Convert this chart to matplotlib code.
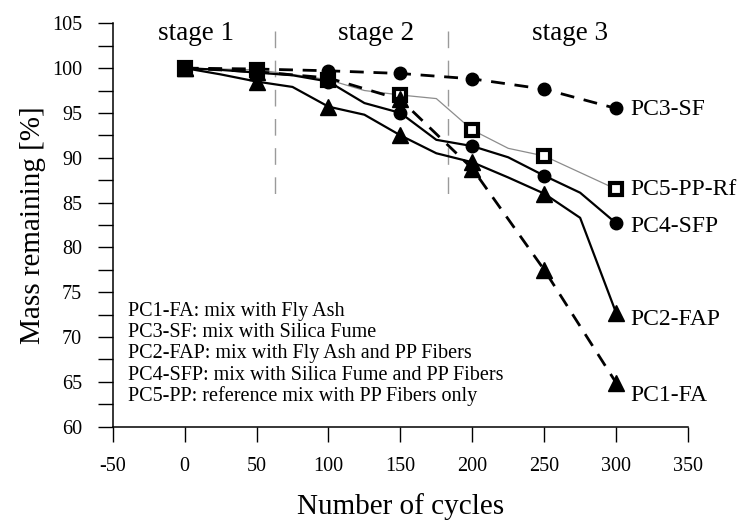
import matplotlib
matplotlib.use("Agg")
import matplotlib.pyplot as plt
from matplotlib.ticker import MultipleLocator

plt.rcParams['font.family'] = ['Liberation Serif', 'DejaVu Serif']
plt.rcParams['axes.unicode_minus'] = False

# ---- data ----
cycles_coarse = [0, 50, 100, 150, 200, 250, 300]
cycles_fine = [0, 25, 50, 75, 100, 125, 150, 175, 200, 225, 250, 275, 300]

pc1_fa = [100, 99.6, 98.9, 96.5, 88.8, 77.5, 64.9]
pc3_sf = [100, 99.9, 99.7, 99.4, 98.8, 97.65, 95.5]
pc2_fap = [100, 99.3, 98.5, 97.9, 95.7, 94.8, 92.5, 90.5, 89.5, 87.8, 86.0, 83.3, 72.7]
pc4_sfp = [100, 99.8, 99.5, 99.2, 98.5, 96.1, 95.0, 92.0, 91.3, 90.05, 88.0, 86.1, 82.7]
pc5_pp = [100, 99.9, 99.8, 99.3, 98.7, 97.5, 97.0, 96.6, 93.1, 91.05, 90.2, 88.35, 86.5]

series_labels = ["PC1-FA", "PC3-SF", "PC2-FAP", "PC4-SFP", "PC5-PP-Rf"]
stage_names = ["stage 1", "stage 2", "stage 3"]
stage_label_x = [8, 133, 268]
stage_bounds = [63, 183]
legend_lines = [
    "PC1-FA: mix with Fly Ash",
    "PC3-SF: mix with Silica Fume",
    "PC2-FAP: mix with Fly Ash and PP Fibers",
    "PC4-SFP: mix with Silica Fume and PP Fibers",
    "PC5-PP: reference mix with PP Fibers only",
]
xticks = [-50, 0, 50, 100, 150, 200, 250, 300, 350]
yticks = [60, 65, 70, 75, 80, 85, 90, 95, 100, 105]

# ---- figure ----
fig = plt.figure(figsize=(7.45, 5.22), dpi=100)
ax = fig.add_axes([0.1513, 0.1826, 0.7722, 0.7728])

dash = (0, (5, 3.5))

# PC5 first (others drawn over it)
ax.plot(cycles_fine, pc5_pp, color='#8c8c8c', lw=0.9, marker='s', markevery=2,
        ms=8, mfc='white', mec='black', mew=3, zorder=2)
ax.plot(cycles_coarse, pc1_fa, color='black', lw=2.0, linestyle=dash, marker='^',
        ms=11, mfc='black', mec='black', zorder=3)
ax.plot(cycles_coarse, pc3_sf, color='black', lw=2.0, linestyle=dash, marker='o',
        ms=9, mfc='black', mec='black', zorder=3)
ax.plot(cycles_fine, pc2_fap, color='black', lw=1.6, marker='^', markevery=2,
        ms=11, mfc='black', mec='black', zorder=4)
ax.plot(cycles_fine, pc4_sfp, color='black', lw=1.6, marker='o', markevery=2,
        ms=9, mfc='black', mec='black', zorder=4)

# end labels
end_vals = [pc1_fa[-1], pc3_sf[-1], pc2_fap[-1], pc4_sfp[-1], pc5_pp[-1]]
end_offsets = [-9, -1, -5, -2.5, 0]
for lab, v, off in zip(series_labels, end_vals, end_offsets):
    ax.annotate(lab, xy=(300, v), xytext=(10, off), textcoords='offset points',
                ha='left', va='center', fontsize=17, annotation_clip=False)

# stage separators and labels
for xb in stage_bounds:
    ax.plot([xb, xb], [104.1, 86.0], color='#9a9a9a', lw=1.0,
            linestyle=(0, (12, 9)), zorder=1)
for name, sx in zip(stage_names, stage_label_x):
    ax.text(sx, 103.1, name, ha='center', va='baseline', fontsize=19.5, clip_on=False)

# legend text block
legend_y = [72.9, 70.5, 68.15, 65.75, 63.4]
for line, ly in zip(legend_lines, legend_y):
    ax.text(-39.5, ly, line, ha='left', va='center', fontsize=14.5)

# axes styling
ax.set_xlim(-50, 350)
ax.set_ylim(60, 105)
ax.set_xticks(xticks)
ax.set_yticks(yticks)
ax.yaxis.set_minor_locator(MultipleLocator(2.5))
for s in ['top', 'right']:
    ax.spines[s].set_visible(False)
for s in ['left', 'bottom']:
    ax.spines[s].set_linewidth(1.1)
ax.tick_params(axis='both', which='both', direction='out', length=11, width=1.0,
               labelsize=14.5, pad=11)
ax.tick_params(axis='y', which='minor', length=11)

ax.set_xlabel("Number of cycles", fontsize=21, labelpad=12)
ax.set_ylabel("Mass remaining [%]", fontsize=21, labelpad=4)

fig.savefig("out.png", dpi=100)
